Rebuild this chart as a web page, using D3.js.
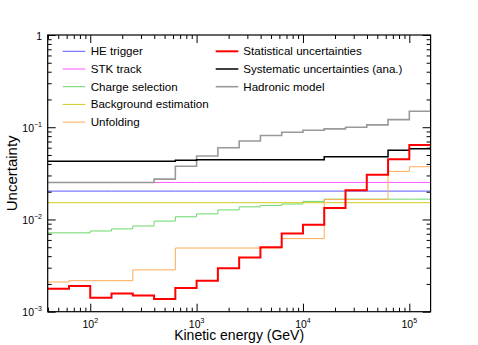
<!DOCTYPE html>
<html>
<head>
<meta charset="utf-8">
<script src="https://cdn.jsdelivr.net/npm/d3@7"></script>
<style>
  body { margin: 0; background: #fff; }
  svg { display: block; font-family: "Liberation Sans", Arial, sans-serif; }
</style>
</head>
<body>
<svg width="478" height="345"></svg>
<script>
// bin edges in GeV (0.2 decade bins, last one runs past the axis)
var edges = [39.8, 63.1, 100, 158.5, 251.2, 398.1, 631, 1000, 1585, 2512, 3981, 6310,
	10000, 15849, 25119, 39811, 63096, 100000, 158489, 251189];

var heTrigger = [0.0203, 0.0203, 0.0203, 0.0203, 0.0203, 0.0203, 0.0203, 0.0203, 0.0203, 0.0203,
	0.0203, 0.0203, 0.0203, 0.0203, 0.0203, 0.0203, 0.0203, 0.0203, 0.0203];
var stkTrack = [0.0252, 0.0252, 0.0252, 0.0252, 0.0252, 0.0252, 0.0252, 0.0252, 0.0252, 0.0252,
	0.0252, 0.0252, 0.0252, 0.0252, 0.0252, 0.0252, 0.0252, 0.0252, 0.0252];
var chargeSel = [0.00716, 0.00716, 0.0075, 0.0079, 0.0085, 0.0096, 0.0107, 0.0115, 0.0127, 0.0137,
	0.0142, 0.0147, 0.0157, 0.0166, 0.0166, 0.0166, 0.0166, 0.0166, 0.0166];
var background = [0.0152, 0.0152, 0.0152, 0.0152, 0.0152, 0.0152, 0.0152, 0.0152, 0.0152, 0.0152,
	0.0152, 0.0152, 0.0152, 0.0152, 0.0152, 0.0152, 0.0152, 0.0152, 0.0152];
var unfolding = [0.0021, 0.00217, 0.00217, 0.00217, 0.00284, 0.00284, 0.0049, 0.0049, 0.0049, 0.0049,
	0.0049, 0.0062, 0.0062, 0.0165, 0.0165, 0.0165, 0.0332, 0.0373, 0.065];
var statistical = [0.00177, 0.0019, 0.00142, 0.00158, 0.0015, 0.00137, 0.00181, 0.00217, 0.00296, 0.00386,
	0.005, 0.00705, 0.00875, 0.0133, 0.0208, 0.0306, 0.0449, 0.0642, 0.064];
var systematic = [0.0428, 0.0428, 0.0428, 0.0428, 0.0428, 0.0428, 0.0438, 0.0445, 0.0445, 0.0445,
	0.0445, 0.0445, 0.0445, 0.048, 0.048, 0.048, 0.0562, 0.0586, 0.06];
var hadronic = [0.0252, 0.0252, 0.0252, 0.0252, 0.0252, 0.0274, 0.0377, 0.0488, 0.06, 0.071,
	0.0813, 0.0883, 0.0927, 0.096, 0.1, 0.106, 0.121, 0.149, 0.197];

var xMajor = [100, 1000, 10000, 100000];
var xMajorExp = ["2", "3", "4", "5"];
var yMajor = [0.001, 0.01, 0.1, 1];
var yMajorExp = ["\u22123", "\u22122", "\u22121", ""];

var series = [
	{name: "HE trigger", vals: heTrigger, color: "#5a5aff", w: 1},
	{name: "STK track", vals: stkTrack, color: "#ff55ff", w: 1},
	{name: "Charge selection", vals: chargeSel, color: "#6cd96c", w: 1},
	{name: "Background estimation", vals: background, color: "#cccc1a", w: 1},
	{name: "Unfolding", vals: unfolding, color: "#ffaa55", w: 1},
	{name: "Hadronic model", vals: hadronic, color: "#999999", w: 1.6},
	{name: "Systematic uncertainties (ana.)", vals: systematic, color: "#000000", w: 1.5},
	{name: "Statistical uncertainties", vals: statistical, color: "#ff0000", w: 2}
];

var svg = d3.select("svg"),
	width = +svg.attr("width"),
	height = +svg.attr("height"),
	margin = {top: 35, right: 47.4, bottom: 33.3, left: 47.7};

var x = d3.scaleLog()
	.domain([Math.pow(10, 1.6), Math.pow(10, 5.2)])
	.range([margin.left, width - margin.right]);
var y = d3.scaleLog()
	.domain([0.001, 1])
	.range([height - margin.bottom, margin.top]);

var x0 = x.range()[0], x1 = x.range()[1], y0 = y.range()[0], y1 = y.range()[1];

svg.append("clipPath").attr("id", "clip")
	.append("rect")
	.attr("x", x0).attr("y", y1)
	.attr("width", x1 - x0).attr("height", y0 - y1);

// step lines
var line = d3.line()
	.curve(d3.curveStepAfter)
	.x(function(d) { return x(d[0]); })
	.y(function(d) { return y(d[1]); });

var stepPoints = function(vals) {
	var pts = vals.map(function(v, i) { return [edges[i], v]; });
	pts.push([edges[vals.length], vals[vals.length - 1]]);
	return pts;
};

svg.append("g").attr("clip-path", "url(#clip)")
	.selectAll("path")
	.data(series)
	.enter()
	.append("path")
	.attr("fill", "none")
	.attr("stroke", function(d) { return d.color; })
	.attr("stroke-width", function(d) { return d.w; })
	.attr("d", function(d) { return line(stepPoints(d.vals)); });

// minor tick values
var xMinor = [], yMinor = [];
[10, 100, 1000, 10000, 100000].forEach(function(b) {
	for (var k = 2; k <= 9; k++) {
		var v = b * k;
		if (v > x.domain()[0] && v < x.domain()[1]) xMinor.push(v);
	}
});
[0.001, 0.01, 0.1].forEach(function(b) {
	for (var k = 2; k <= 9; k++) yMinor.push(b * k);
});

var addAxis = function(axis, tr) {
	var g = svg.append("g")
		.attr("transform", tr)
		.call(axis);
	g.select(".domain").remove();
	g.selectAll("line").attr("stroke", "#000");
	return g;
};

addAxis(d3.axisBottom(x).tickValues(xMajor).tickSize(-8).tickFormat(""), "translate(0," + y0 + ")");
addAxis(d3.axisBottom(x).tickValues(xMinor).tickSize(-4).tickFormat(""), "translate(0," + y0 + ")");
addAxis(d3.axisTop(x).tickValues(xMajor).tickSize(-8).tickFormat(""), "translate(0," + y1 + ")");
addAxis(d3.axisTop(x).tickValues(xMinor).tickSize(-4).tickFormat(""), "translate(0," + y1 + ")");
addAxis(d3.axisLeft(y).tickValues(yMajor).tickSize(-8).tickFormat(""), "translate(" + x0 + ",0)");
addAxis(d3.axisLeft(y).tickValues(yMinor).tickSize(-4).tickFormat(""), "translate(" + x0 + ",0)");
addAxis(d3.axisRight(y).tickValues(yMajor).tickSize(-8).tickFormat(""), "translate(" + x1 + ",0)");
addAxis(d3.axisRight(y).tickValues(yMinor).tickSize(-4).tickFormat(""), "translate(" + x1 + ",0)");

// frame
svg.append("rect")
	.attr("x", x0).attr("y", y1)
	.attr("width", x1 - x0).attr("height", y0 - y1)
	.attr("fill", "none")
	.attr("stroke", "#000")
	.attr("stroke-width", 1.2);

// tick labels as 10^n
var xl = svg.append("g").selectAll("text")
	.data(xMajor)
	.enter()
	.append("text")
	.attr("x", function(d) { return x(d); })
	.attr("y", y0 + 16)
	.attr("text-anchor", "middle")
	.attr("font-size", 10.5);
xl.append("tspan").text("10");
xl.append("tspan")
	.attr("dy", -5)
	.attr("font-size", 7)
	.text(function(d, i) { return xMajorExp[i]; });

var yl = svg.append("g").selectAll("text")
	.data(yMajor)
	.enter()
	.append("text")
	.attr("x", 42)
	.attr("y", function(d) { return y(d) + 4.5; })
	.attr("text-anchor", "end")
	.attr("font-size", 10.5);
yl.append("tspan").text(function(d) { return d === 1 ? "1" : "10"; });
yl.append("tspan")
	.attr("dy", -5)
	.attr("font-size", 7)
	.text(function(d, i) { return yMajorExp[i]; });

// axis titles
svg.append("text")
	.attr("x", (x0 + x1) / 2)
	.attr("y", 340)
	.attr("text-anchor", "middle")
	.attr("font-size", 14)
	.text("Kinetic energy (GeV)");

svg.append("text")
	.attr("transform", "translate(17," + ((y0 + y1) / 2) + ") rotate(-90)")
	.attr("text-anchor", "middle")
	.attr("font-size", 15)
	.text("Uncertainty");

// legend
var legendCols = [
	{lx: 62.7, tx: 90.7, items: series.slice(0, 5)},
	{lx: 215.7, tx: 243.3, items: [series[7], series[6], series[5]]}
];

legendCols.forEach(function(col) {
	var g = svg.append("g").selectAll("g")
		.data(col.items)
		.enter()
		.append("g")
		.attr("transform", function(d, i) { return "translate(0," + (51.3 + i * 17.7) + ")"; });
	g.append("line")
		.attr("x1", col.lx).attr("x2", col.lx + 22.6)
		.attr("stroke", function(d) { return d.color; })
		.attr("stroke-width", function(d) { return d.w; });
	g.append("text")
		.attr("x", col.tx)
		.attr("dy", "0.35em")
		.attr("font-size", 11.6)
		.text(function(d) { return d.name; });
});
</script>
</body>
</html>
